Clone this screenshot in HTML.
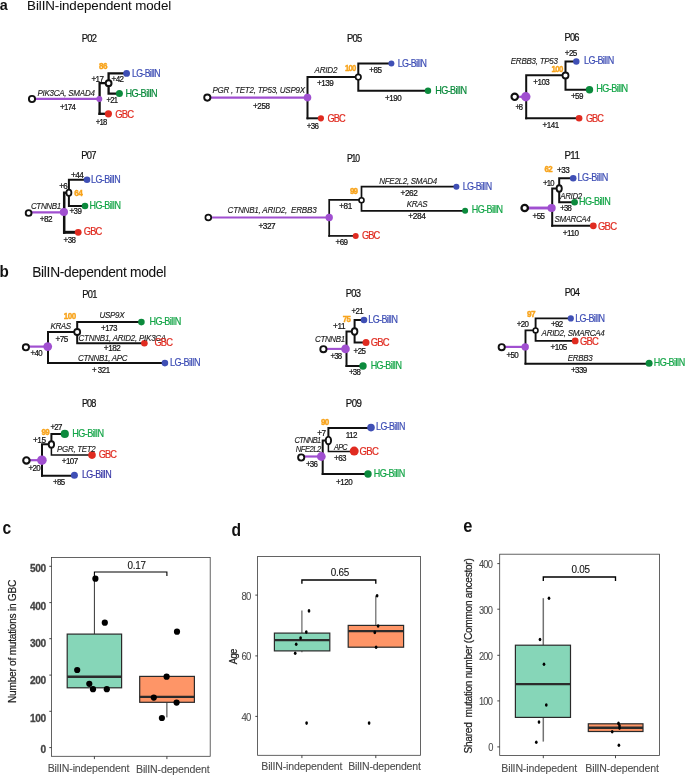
<!DOCTYPE html><html><head><meta charset="utf-8"><title>BilIN models</title>
<style>html,body{margin:0;padding:0;background:#fff}svg{display:block}text{white-space:pre;font-family:"Liberation Sans",sans-serif}</style></head><body>
<svg width="685" height="775" viewBox="0 0 685 775">
<rect width="685" height="775" fill="#fff"/>
<text transform="translate(-0.3,9.8) scale(0.957,1)" font-size="15" fill="#111" stroke="#111" stroke-width="0" font-weight="bold" textLength="8.0" lengthAdjust="spacing">a</text>
<text transform="translate(27.1,10.0) scale(0.982,1)" font-size="13.6" fill="#111" stroke="#111" stroke-width="0.05" textLength="146.8" lengthAdjust="spacing">BilIN-independent model</text>
<text transform="translate(-0.6,276.5) scale(0.896,1)" font-size="17" fill="#111" stroke="#111" stroke-width="0" font-weight="bold" textLength="9.5" lengthAdjust="spacing">b</text>
<text transform="translate(32.2,276.5) scale(0.949,1)" font-size="14.5" fill="#111" stroke="#111" stroke-width="0.05" textLength="141.4" lengthAdjust="spacing">BilIN-dependent model</text>
<text transform="translate(81.8,41.8) scale(0.893,1)" font-size="10.5" fill="#111" stroke="#111" stroke-width="0.22" textLength="17.0" lengthAdjust="spacing">P02</text>
<line x1="32.0" y1="98.9" x2="99.3" y2="98.9" stroke="#a04fd0" stroke-width="2.2" stroke-linecap="butt"/>
<polyline points="108.6,83.1 99.6,83.1 99.6,115.0" fill="none" stroke="#111" stroke-width="2.3" stroke-linejoin="miter"/>
<line x1="98.4" y1="113.8" x2="108.4" y2="113.8" stroke="#111" stroke-width="2.3" stroke-linecap="butt"/>
<polyline points="126.6,73.4 108.6,73.4 108.6,93.6 119.4,93.6" fill="none" stroke="#111" stroke-width="2.3" stroke-linejoin="miter"/>
<circle cx="126.6" cy="73.4" r="3.4" fill="#3f4fb5"/>
<circle cx="119.4" cy="93.6" r="3.5" fill="#0b8a3c"/>
<circle cx="108.4" cy="113.8" r="3.6" fill="#e02b20"/>
<circle cx="99.3" cy="98.9" r="3.0" fill="#a04fd0"/>
<circle cx="32.0" cy="99.0" r="3.1" fill="#fff" stroke="#111" stroke-width="1.9"/>
<circle cx="108.6" cy="83.2" r="2.9" fill="#fff" stroke="#111" stroke-width="2.0"/>
<text transform="translate(99.0,68.5) scale(0.925,1)" font-size="8.8" fill="#f8a31a" stroke="#f8a31a" stroke-width="0.4" font-weight="bold" textLength="9.2" lengthAdjust="spacing">86</text>
<text transform="translate(91.4,81.7) scale(0.900,1)" font-size="9" fill="#111" stroke="#111" stroke-width="0.22" textLength="14.0" lengthAdjust="spacing">+17</text>
<text transform="translate(111.5,82.0) scale(0.896,1)" font-size="9" fill="#111" stroke="#111" stroke-width="0.22" textLength="14.0" lengthAdjust="spacing">+42</text>
<text transform="translate(132.0,77.0) scale(0.835,1)" font-size="10.5" fill="#3f4fb5" stroke="#3f4fb5" stroke-width="0.22" textLength="34.2" lengthAdjust="spacing">LG-BilIN</text>
<text transform="translate(125.5,97.0) scale(0.871,1)" font-size="10.5" fill="#0b8a3c" stroke="#0b8a3c" stroke-width="0.22" textLength="37.0" lengthAdjust="spacing">HG-BilIN</text>
<text transform="translate(106.6,102.7) scale(0.852,1)" font-size="9" fill="#111" stroke="#111" stroke-width="0.22" textLength="13.4" lengthAdjust="spacing">+21</text>
<text transform="translate(115.3,117.6) scale(0.903,1)" font-size="10.5" fill="#e02b20" stroke="#e02b20" stroke-width="0.22" textLength="20.9" lengthAdjust="spacing">GBC</text>
<text transform="translate(95.8,124.6) scale(0.860,1)" font-size="9" fill="#111" stroke="#111" stroke-width="0.22" textLength="13.5" lengthAdjust="spacing">+18</text>
<text transform="translate(37.4,95.9) scale(0.935,1)" font-size="8.6" fill="#1a1a1a" stroke="#1a1a1a" stroke-width="0.12" font-style="italic" textLength="61.5" lengthAdjust="spacing">PIK3CA, SMAD4</text>
<text transform="translate(59.9,109.9) scale(0.878,1)" font-size="9" fill="#111" stroke="#111" stroke-width="0.22" textLength="18.2" lengthAdjust="spacing">+174</text>
<text transform="translate(346.9,41.7) scale(0.896,1)" font-size="10.5" fill="#111" stroke="#111" stroke-width="0.22" textLength="17.1" lengthAdjust="spacing">P05</text>
<line x1="207.3" y1="97.6" x2="307.5" y2="97.6" stroke="#a04fd0" stroke-width="2.2" stroke-linecap="butt"/>
<polyline points="358.3,76.9 307.5,76.9 307.5,119.3" fill="none" stroke="#111" stroke-width="2.0" stroke-linejoin="miter"/>
<line x1="306.5" y1="118.3" x2="320.9" y2="118.3" stroke="#111" stroke-width="2.0" stroke-linecap="butt"/>
<polyline points="391.4,63.6 358.3,63.6 358.3,90.8 428.0,90.8" fill="none" stroke="#111" stroke-width="2.0" stroke-linejoin="miter"/>
<circle cx="391.4" cy="63.6" r="3.0" fill="#3f4fb5"/>
<circle cx="428.0" cy="90.8" r="3.2" fill="#0b8a3c"/>
<circle cx="320.9" cy="118.3" r="3.1" fill="#e02b20"/>
<circle cx="307.5" cy="97.6" r="3.8" fill="#a04fd0"/>
<circle cx="207.3" cy="97.6" r="3.1" fill="#fff" stroke="#111" stroke-width="1.9"/>
<circle cx="358.3" cy="77.1" r="2.7" fill="#fff" stroke="#111" stroke-width="1.7"/>
<text transform="translate(314.6,72.9) scale(0.944,1)" font-size="8.6" fill="#1a1a1a" stroke="#1a1a1a" stroke-width="0.12" font-style="italic" textLength="24.2" lengthAdjust="spacing">ARID2</text>
<text transform="translate(344.9,71.4) scale(0.870,1)" font-size="8.8" fill="#f8a31a" stroke="#f8a31a" stroke-width="0.4" font-weight="bold" textLength="13.1" lengthAdjust="spacing">100</text>
<text transform="translate(369.3,73.0) scale(0.904,1)" font-size="9" fill="#111" stroke="#111" stroke-width="0.22" textLength="14.1" lengthAdjust="spacing">+85</text>
<text transform="translate(397.7,67.1) scale(0.845,1)" font-size="10.5" fill="#3f4fb5" stroke="#3f4fb5" stroke-width="0.22" textLength="34.6" lengthAdjust="spacing">LG-BilIN</text>
<text transform="translate(316.9,85.6) scale(0.908,1)" font-size="9" fill="#111" stroke="#111" stroke-width="0.22" textLength="18.7" lengthAdjust="spacing">+139</text>
<text transform="translate(435.2,94.1) scale(0.865,1)" font-size="10.5" fill="#0b8a3c" stroke="#0b8a3c" stroke-width="0.22" textLength="36.8" lengthAdjust="spacing">HG-BilIN</text>
<text transform="translate(385.1,101.0) scale(0.896,1)" font-size="9" fill="#111" stroke="#111" stroke-width="0.22" textLength="18.5" lengthAdjust="spacing">+190</text>
<text transform="translate(212.5,92.6) scale(0.933,1)" font-size="8.6" fill="#1a1a1a" stroke="#1a1a1a" stroke-width="0.12" font-style="italic" textLength="99.3" lengthAdjust="spacing">PGR , TET2, TP53, USP9X</text>
<text transform="translate(253.1,108.6) scale(0.905,1)" font-size="9" fill="#111" stroke="#111" stroke-width="0.22" textLength="18.7" lengthAdjust="spacing">+258</text>
<text transform="translate(327.6,121.9) scale(0.882,1)" font-size="10.5" fill="#e02b20" stroke="#e02b20" stroke-width="0.22" textLength="20.5" lengthAdjust="spacing">GBC</text>
<text transform="translate(306.7,128.7) scale(0.884,1)" font-size="9" fill="#111" stroke="#111" stroke-width="0.22" textLength="13.8" lengthAdjust="spacing">+36</text>
<text transform="translate(564.5,41.2) scale(0.886,1)" font-size="10.5" fill="#111" stroke="#111" stroke-width="0.22" textLength="16.9" lengthAdjust="spacing">P06</text>
<line x1="514.7" y1="96.8" x2="525.8" y2="96.8" stroke="#a04fd0" stroke-width="2.2" stroke-linecap="butt"/>
<polyline points="565.5,75.3 526.2,75.3 526.2,119.3" fill="none" stroke="#111" stroke-width="2.0" stroke-linejoin="miter"/>
<line x1="525.2" y1="118.3" x2="579.1" y2="118.3" stroke="#111" stroke-width="2.0" stroke-linecap="butt"/>
<polyline points="576.3,61.5 565.5,61.5 565.5,89.7 589.5,89.7" fill="none" stroke="#111" stroke-width="2.0" stroke-linejoin="miter"/>
<circle cx="576.3" cy="61.5" r="3.2" fill="#3f4fb5"/>
<circle cx="589.5" cy="89.7" r="3.7" fill="#0b8a3c"/>
<circle cx="579.1" cy="118.3" r="3.3" fill="#e02b20"/>
<circle cx="525.8" cy="96.8" r="4.7" fill="#a04fd0"/>
<circle cx="514.7" cy="96.8" r="3.2" fill="#fff" stroke="#111" stroke-width="2.1"/>
<circle cx="565.5" cy="75.5" r="3.0" fill="#fff" stroke="#111" stroke-width="1.8"/>
<text transform="translate(564.8,56.4) scale(0.896,1)" font-size="9" fill="#111" stroke="#111" stroke-width="0.22" textLength="14.0" lengthAdjust="spacing">+25</text>
<text transform="translate(510.8,63.5) scale(0.933,1)" font-size="8.6" fill="#1a1a1a" stroke="#1a1a1a" stroke-width="0.12" font-style="italic" textLength="50.6" lengthAdjust="spacing">ERBB3, TP53</text>
<text transform="translate(551.6,71.5) scale(0.887,1)" font-size="8.8" fill="#f8a31a" stroke="#f8a31a" stroke-width="0.4" font-weight="bold" textLength="13.3" lengthAdjust="spacing">100</text>
<text transform="translate(584.1,63.7) scale(0.859,1)" font-size="10.5" fill="#3f4fb5" stroke="#3f4fb5" stroke-width="0.22" textLength="35.0" lengthAdjust="spacing">LG-BilIN</text>
<text transform="translate(533.3,85.1) scale(0.893,1)" font-size="9" fill="#111" stroke="#111" stroke-width="0.22" textLength="18.5" lengthAdjust="spacing">+103</text>
<text transform="translate(596.3,92.0) scale(0.866,1)" font-size="10.5" fill="#14a548" stroke="#14a548" stroke-width="0.22" textLength="36.8" lengthAdjust="spacing">HG-BilIN</text>
<text transform="translate(570.9,99.0) scale(0.896,1)" font-size="9" fill="#111" stroke="#111" stroke-width="0.22" textLength="14.0" lengthAdjust="spacing">+59</text>
<text transform="translate(515.4,110.4) scale(0.848,1)" font-size="9" fill="#111" stroke="#111" stroke-width="0.22" textLength="9.0" lengthAdjust="spacing">+8</text>
<text transform="translate(585.9,121.8) scale(0.876,1)" font-size="10.5" fill="#e02b20" stroke="#e02b20" stroke-width="0.22" textLength="20.4" lengthAdjust="spacing">GBC</text>
<text transform="translate(542.6,128.3) scale(0.893,1)" font-size="9" fill="#111" stroke="#111" stroke-width="0.22" textLength="18.5" lengthAdjust="spacing">+141</text>
<text transform="translate(81.2,159.0) scale(0.893,1)" font-size="10.5" fill="#111" stroke="#111" stroke-width="0.22" textLength="17.0" lengthAdjust="spacing">P07</text>
<line x1="28.6" y1="212.4" x2="63.9" y2="212.4" stroke="#a04fd0" stroke-width="2.2" stroke-linecap="butt"/>
<polyline points="68.9,192.8 64.2,192.8 64.2,233.8" fill="none" stroke="#111" stroke-width="2.5" stroke-linejoin="miter"/>
<line x1="63.0" y1="232.3" x2="78.2" y2="232.3" stroke="#111" stroke-width="3.0" stroke-linecap="butt"/>
<polyline points="87.0,179.7 68.9,179.7 68.9,206.0 85.0,206.0" fill="none" stroke="#111" stroke-width="2.0" stroke-linejoin="miter"/>
<circle cx="87.0" cy="179.7" r="3.3" fill="#3f4fb5"/>
<circle cx="85.0" cy="206.0" r="3.3" fill="#0b8a3c"/>
<circle cx="78.2" cy="232.3" r="3.4" fill="#e02b20"/>
<circle cx="63.9" cy="212.0" r="4.1" fill="#a04fd0"/>
<circle cx="28.6" cy="213.0" r="2.9" fill="#fff" stroke="#111" stroke-width="1.9"/>
<ellipse cx="68.9" cy="192.8" rx="2.5" ry="3.1" fill="#fff" stroke="#111" stroke-width="1.8"/>
<text transform="translate(70.9,178.2) scale(0.912,1)" font-size="9" fill="#111" stroke="#111" stroke-width="0.22" textLength="14.2" lengthAdjust="spacing">+44</text>
<text transform="translate(91.1,182.6) scale(0.850,1)" font-size="10.5" fill="#3f4fb5" stroke="#3f4fb5" stroke-width="0.22" textLength="34.7" lengthAdjust="spacing">LG-BilIN</text>
<text transform="translate(59.3,188.5) scale(0.896,1)" font-size="9" fill="#111" stroke="#111" stroke-width="0.22" textLength="9.4" lengthAdjust="spacing">+6</text>
<text transform="translate(74.2,195.8) scale(0.937,1)" font-size="8.8" fill="#f8a31a" stroke="#f8a31a" stroke-width="0.4" font-weight="bold" textLength="9.3" lengthAdjust="spacing">64</text>
<text transform="translate(89.6,208.6) scale(0.857,1)" font-size="10.5" fill="#14a548" stroke="#14a548" stroke-width="0.22" textLength="36.5" lengthAdjust="spacing">HG-BilIN</text>
<text transform="translate(30.9,209.1) scale(0.934,1)" font-size="8.6" fill="#1a1a1a" stroke="#1a1a1a" stroke-width="0.12" font-style="italic" textLength="32.5" lengthAdjust="spacing">CTNNB1</text>
<text transform="translate(69.5,214.4) scale(0.888,1)" font-size="9" fill="#111" stroke="#111" stroke-width="0.22" textLength="13.9" lengthAdjust="spacing">+39</text>
<text transform="translate(39.7,222.0) scale(0.912,1)" font-size="9" fill="#111" stroke="#111" stroke-width="0.22" textLength="14.2" lengthAdjust="spacing">+82</text>
<text transform="translate(83.8,235.2) scale(0.890,1)" font-size="10.5" fill="#e02b20" stroke="#e02b20" stroke-width="0.22" textLength="20.7" lengthAdjust="spacing">GBC</text>
<text transform="translate(63.6,242.5) scale(0.888,1)" font-size="9" fill="#111" stroke="#111" stroke-width="0.22" textLength="13.9" lengthAdjust="spacing">+38</text>
<text transform="translate(347.0,162.1) scale(0.819,1)" font-size="10.5" fill="#111" stroke="#111" stroke-width="0.22" textLength="15.9" lengthAdjust="spacing">P10</text>
<line x1="208.3" y1="217.5" x2="329.2" y2="217.5" stroke="#a04fd0" stroke-width="2.1" stroke-linecap="butt"/>
<polyline points="361.5,199.9 329.2,199.9 329.2,236.8" fill="none" stroke="#111" stroke-width="1.7" stroke-linejoin="miter"/>
<line x1="328.3" y1="235.9" x2="355.7" y2="235.9" stroke="#111" stroke-width="1.7" stroke-linecap="butt"/>
<polyline points="456.4,186.7 361.5,186.7 361.5,210.8 465.1,210.8" fill="none" stroke="#111" stroke-width="1.7" stroke-linejoin="miter"/>
<circle cx="456.4" cy="186.7" r="3" fill="#3f4fb5"/>
<circle cx="465.1" cy="210.8" r="3" fill="#0b8a3c"/>
<circle cx="355.7" cy="235.9" r="3" fill="#e02b20"/>
<circle cx="329.2" cy="217.5" r="3.7" fill="#a04fd0"/>
<circle cx="208.3" cy="217.5" r="2.9" fill="#fff" stroke="#111" stroke-width="1.7"/>
<circle cx="361.5" cy="200.2" r="2.5" fill="#fff" stroke="#111" stroke-width="1.6"/>
<text transform="translate(379.3,184.0) scale(0.930,1)" font-size="8.6" fill="#1a1a1a" stroke="#1a1a1a" stroke-width="0.12" font-style="italic" textLength="62.2" lengthAdjust="spacing">NFE2L2, SMAD4</text>
<text transform="translate(349.9,194.3) scale(0.907,1)" font-size="8.8" fill="#f8a31a" stroke="#f8a31a" stroke-width="0.4" font-weight="bold" textLength="9.0" lengthAdjust="spacing">99</text>
<text transform="translate(400.5,196.2) scale(0.919,1)" font-size="9" fill="#111" stroke="#111" stroke-width="0.22" textLength="18.9" lengthAdjust="spacing">+262</text>
<text transform="translate(462.7,190.3) scale(0.848,1)" font-size="10.5" fill="#3f4fb5" stroke="#3f4fb5" stroke-width="0.22" textLength="34.7" lengthAdjust="spacing">LG-BilIN</text>
<text transform="translate(406.8,206.7) scale(0.934,1)" font-size="8.6" fill="#1a1a1a" stroke="#1a1a1a" stroke-width="0.12" font-style="italic" textLength="22.2" lengthAdjust="spacing">KRAS</text>
<text transform="translate(339.3,209.2) scale(0.915,1)" font-size="9" fill="#111" stroke="#111" stroke-width="0.22" textLength="14.2" lengthAdjust="spacing">+81</text>
<text transform="translate(471.8,212.7) scale(0.857,1)" font-size="10.5" fill="#14a548" stroke="#14a548" stroke-width="0.22" textLength="36.5" lengthAdjust="spacing">HG-BilIN</text>
<text transform="translate(408.2,219.3) scale(0.931,1)" font-size="9" fill="#111" stroke="#111" stroke-width="0.22" textLength="19.1" lengthAdjust="spacing">+284</text>
<text transform="translate(227.6,212.5) scale(0.941,1)" font-size="8.6" fill="#1a1a1a" stroke="#1a1a1a" stroke-width="0.12" font-style="italic" textLength="94.7" lengthAdjust="spacing">CTNNB1, ARID2,  ERBB3</text>
<text transform="translate(258.4,229.4) scale(0.916,1)" font-size="9" fill="#111" stroke="#111" stroke-width="0.22" textLength="18.9" lengthAdjust="spacing">+327</text>
<text transform="translate(362.0,238.7) scale(0.887,1)" font-size="10.5" fill="#e02b20" stroke="#e02b20" stroke-width="0.22" textLength="20.6" lengthAdjust="spacing">GBC</text>
<text transform="translate(335.5,245.3) scale(0.896,1)" font-size="9" fill="#111" stroke="#111" stroke-width="0.22" textLength="14.0" lengthAdjust="spacing">+69</text>
<text transform="translate(564.4,159.3) scale(0.924,1)" font-size="10.5" fill="#111" stroke="#111" stroke-width="0.22" textLength="16.8" lengthAdjust="spacing">P11</text>
<line x1="524.7" y1="208.0" x2="551.6" y2="208.0" stroke="#a04fd0" stroke-width="2.9" stroke-linecap="butt"/>
<polyline points="559.2,188.5 552.2,188.5 552.2,226.8" fill="none" stroke="#111" stroke-width="2.0" stroke-linejoin="miter"/>
<line x1="551.2" y1="225.8" x2="593.3" y2="225.8" stroke="#111" stroke-width="2.0" stroke-linecap="butt"/>
<polyline points="573.2,178.2 559.2,178.2 559.2,202.2 574.6,202.2" fill="none" stroke="#111" stroke-width="2.0" stroke-linejoin="miter"/>
<circle cx="573.2" cy="178.2" r="3.3" fill="#3f4fb5"/>
<circle cx="574.6" cy="202.2" r="3.3" fill="#0b8a3c"/>
<circle cx="593.3" cy="225.8" r="3.4" fill="#e02b20"/>
<circle cx="551.6" cy="208.0" r="4.1" fill="#a04fd0"/>
<circle cx="524.7" cy="208.0" r="3.2" fill="#fff" stroke="#111" stroke-width="2.3"/>
<ellipse cx="559.2" cy="188.5" rx="2.6" ry="3.3" fill="#fff" stroke="#111" stroke-width="1.9"/>
<text transform="translate(544.6,171.5) scale(0.901,1)" font-size="8.8" fill="#f8a31a" stroke="#f8a31a" stroke-width="0.4" font-weight="bold" textLength="9.0" lengthAdjust="spacing">62</text>
<text transform="translate(557.1,173.0) scale(0.900,1)" font-size="9" fill="#111" stroke="#111" stroke-width="0.22" textLength="14.0" lengthAdjust="spacing">+33</text>
<text transform="translate(577.6,181.2) scale(0.867,1)" font-size="10.5" fill="#3f4fb5" stroke="#3f4fb5" stroke-width="0.22" textLength="35.3" lengthAdjust="spacing">LG-BilIN</text>
<text transform="translate(543.1,185.5) scale(0.852,1)" font-size="9" fill="#111" stroke="#111" stroke-width="0.22" textLength="13.4" lengthAdjust="spacing">+10</text>
<text transform="translate(560.3,199.1) scale(0.923,1)" font-size="8.6" fill="#1a1a1a" stroke="#1a1a1a" stroke-width="0.12" font-style="italic" textLength="23.7" lengthAdjust="spacing">ARID2</text>
<text transform="translate(579.0,205.1) scale(0.865,1)" font-size="10.5" fill="#14a548" stroke="#14a548" stroke-width="0.22" textLength="36.8" lengthAdjust="spacing">HG-BilIN</text>
<text transform="translate(560.3,210.9) scale(0.864,1)" font-size="9" fill="#111" stroke="#111" stroke-width="0.22" textLength="13.5" lengthAdjust="spacing">+38</text>
<text transform="translate(532.6,218.8) scale(0.888,1)" font-size="9" fill="#111" stroke="#111" stroke-width="0.22" textLength="13.9" lengthAdjust="spacing">+55</text>
<text transform="translate(554.5,221.9) scale(0.927,1)" font-size="8.6" fill="#1a1a1a" stroke="#1a1a1a" stroke-width="0.12" font-style="italic" textLength="39.1" lengthAdjust="spacing">SMARCA4</text>
<text transform="translate(598.0,229.6) scale(0.906,1)" font-size="10.5" fill="#e02b20" stroke="#e02b20" stroke-width="0.22" textLength="21.0" lengthAdjust="spacing">GBC</text>
<text transform="translate(562.7,236.0) scale(0.903,1)" font-size="9" fill="#111" stroke="#111" stroke-width="0.22" textLength="18.0" lengthAdjust="spacing">+110</text>
<text transform="translate(82.3,297.7) scale(0.889,1)" font-size="10.5" fill="#111" stroke="#111" stroke-width="0.22" textLength="17.0" lengthAdjust="spacing">P01</text>
<line x1="25.9" y1="346.6" x2="47.7" y2="346.6" stroke="#a04fd0" stroke-width="2.2" stroke-linecap="butt"/>
<polyline points="77.2,331.9 48.0,331.9 48.0,364.1" fill="none" stroke="#111" stroke-width="2.0" stroke-linejoin="miter"/>
<line x1="47.0" y1="363.1" x2="164.9" y2="363.1" stroke="#111" stroke-width="2.0" stroke-linecap="butt"/>
<polyline points="141.4,322.1 77.2,322.1 77.2,343.3 144.4,343.3" fill="none" stroke="#111" stroke-width="2.0" stroke-linejoin="miter"/>
<circle cx="141.4" cy="322.1" r="3.3" fill="#0b8a3c"/>
<circle cx="144.4" cy="343.3" r="3.3" fill="#e02b20"/>
<circle cx="164.9" cy="363.1" r="3.3" fill="#3f4fb5"/>
<circle cx="47.7" cy="346.6" r="4.4" fill="#a04fd0"/>
<circle cx="25.9" cy="347.3" r="3.1" fill="#fff" stroke="#111" stroke-width="1.9"/>
<circle cx="77.2" cy="332.0" r="3.0" fill="#fff" stroke="#111" stroke-width="1.8"/>
<text transform="translate(63.8,318.9) scale(0.911,1)" font-size="8.8" fill="#f8a31a" stroke="#f8a31a" stroke-width="0.4" font-weight="bold" textLength="13.6" lengthAdjust="spacing">100</text>
<text transform="translate(99.4,317.8) scale(0.940,1)" font-size="8.6" fill="#1a1a1a" stroke="#1a1a1a" stroke-width="0.12" font-style="italic" textLength="26.8" lengthAdjust="spacing">USP9X</text>
<text transform="translate(149.4,324.6) scale(0.866,1)" font-size="10.5" fill="#14a548" stroke="#14a548" stroke-width="0.22" textLength="36.8" lengthAdjust="spacing">HG-BilIN</text>
<text transform="translate(50.4,328.6) scale(0.937,1)" font-size="8.6" fill="#1a1a1a" stroke="#1a1a1a" stroke-width="0.12" font-style="italic" textLength="22.2" lengthAdjust="spacing">KRAS</text>
<text transform="translate(101.1,331.4) scale(0.890,1)" font-size="9" fill="#111" stroke="#111" stroke-width="0.22" textLength="18.4" lengthAdjust="spacing">+173</text>
<text transform="translate(78.6,340.7) scale(0.932,1)" font-size="8.6" fill="#1a1a1a" stroke="#1a1a1a" stroke-width="0.12" font-style="italic" textLength="94.0" lengthAdjust="spacing">CTNNB1, ARID2, PIK3CA</text>
<text transform="translate(55.4,341.8) scale(0.908,1)" font-size="9" fill="#111" stroke="#111" stroke-width="0.22" textLength="14.1" lengthAdjust="spacing">+75</text>
<text transform="translate(154.5,346.3) scale(0.890,1)" font-size="10.5" fill="#e02b20" stroke="#e02b20" stroke-width="0.22" textLength="20.7" lengthAdjust="spacing">GBC</text>
<text transform="translate(103.8,350.6) scale(0.911,1)" font-size="9" fill="#111" stroke="#111" stroke-width="0.22" textLength="18.8" lengthAdjust="spacing">+182</text>
<text transform="translate(30.6,355.5) scale(0.876,1)" font-size="9" fill="#111" stroke="#111" stroke-width="0.22" textLength="13.7" lengthAdjust="spacing">+40</text>
<text transform="translate(77.9,360.8) scale(0.931,1)" font-size="8.6" fill="#1a1a1a" stroke="#1a1a1a" stroke-width="0.12" font-style="italic" textLength="53.4" lengthAdjust="spacing">CTNNB1, APC</text>
<text transform="translate(169.9,365.5) scale(0.867,1)" font-size="10.5" fill="#3f4fb5" stroke="#3f4fb5" stroke-width="0.22" textLength="35.3" lengthAdjust="spacing">LG-BilIN</text>
<text transform="translate(92.0,373.0) scale(0.881,1)" font-size="9" fill="#111" stroke="#111" stroke-width="0.22" textLength="20.5" lengthAdjust="spacing">+ 321</text>
<text transform="translate(345.8,297.3) scale(0.893,1)" font-size="10.5" fill="#111" stroke="#111" stroke-width="0.22" textLength="17.0" lengthAdjust="spacing">P03</text>
<line x1="323.4" y1="348.9" x2="345.5" y2="348.9" stroke="#a04fd0" stroke-width="2.1" stroke-linecap="butt"/>
<polyline points="354.6,331.5 346.5,331.5 346.5,367.0" fill="none" stroke="#111" stroke-width="2.0" stroke-linejoin="miter"/>
<line x1="345.5" y1="366.0" x2="363.0" y2="366.0" stroke="#111" stroke-width="2.0" stroke-linecap="butt"/>
<polyline points="364.0,320.0 354.6,320.0 354.6,342.5 366.0,342.5" fill="none" stroke="#111" stroke-width="2.0" stroke-linejoin="miter"/>
<circle cx="364.0" cy="320.0" r="3.3" fill="#3f4fb5"/>
<circle cx="366.0" cy="342.5" r="3.5" fill="#e02b20"/>
<circle cx="363.0" cy="366.0" r="3.7" fill="#0b8a3c"/>
<circle cx="345.5" cy="348.9" r="4.3" fill="#a04fd0"/>
<circle cx="323.4" cy="349.2" r="3.1" fill="#fff" stroke="#111" stroke-width="1.9"/>
<ellipse cx="354.6" cy="331.5" rx="2.8" ry="3.2" fill="#fff" stroke="#111" stroke-width="1.9"/>
<text transform="translate(351.6,313.5) scale(0.876,1)" font-size="9" fill="#111" stroke="#111" stroke-width="0.22" textLength="13.7" lengthAdjust="spacing">+21</text>
<text transform="translate(342.8,321.6) scale(0.901,1)" font-size="8.8" fill="#f8a31a" stroke="#f8a31a" stroke-width="0.4" font-weight="bold" textLength="9.0" lengthAdjust="spacing">75</text>
<text transform="translate(368.3,323.2) scale(0.851,1)" font-size="10.5" fill="#3f4fb5" stroke="#3f4fb5" stroke-width="0.22" textLength="34.8" lengthAdjust="spacing">LG-BilIN</text>
<text transform="translate(333.1,329.3) scale(0.914,1)" font-size="9" fill="#111" stroke="#111" stroke-width="0.22" textLength="13.6" lengthAdjust="spacing">+11</text>
<text transform="translate(315.0,341.9) scale(0.931,1)" font-size="8.6" fill="#1a1a1a" stroke="#1a1a1a" stroke-width="0.12" font-style="italic" textLength="32.4" lengthAdjust="spacing">CTNNB1</text>
<text transform="translate(370.7,346.3) scale(0.900,1)" font-size="10.5" fill="#e02b20" stroke="#e02b20" stroke-width="0.22" textLength="20.9" lengthAdjust="spacing">GBC</text>
<text transform="translate(353.6,353.5) scale(0.892,1)" font-size="9" fill="#111" stroke="#111" stroke-width="0.22" textLength="13.9" lengthAdjust="spacing">+25</text>
<text transform="translate(330.4,358.8) scale(0.868,1)" font-size="9" fill="#111" stroke="#111" stroke-width="0.22" textLength="13.6" lengthAdjust="spacing">+38</text>
<text transform="translate(370.7,368.8) scale(0.856,1)" font-size="10.5" fill="#14a548" stroke="#14a548" stroke-width="0.22" textLength="36.5" lengthAdjust="spacing">HG-BilIN</text>
<text transform="translate(348.9,374.9) scale(0.880,1)" font-size="9" fill="#111" stroke="#111" stroke-width="0.22" textLength="13.8" lengthAdjust="spacing">+38</text>
<text transform="translate(564.8,295.6) scale(0.889,1)" font-size="10.5" fill="#111" stroke="#111" stroke-width="0.22" textLength="17.0" lengthAdjust="spacing">P04</text>
<line x1="501.7" y1="346.9" x2="525.2" y2="346.9" stroke="#a04fd0" stroke-width="2.2" stroke-linecap="butt"/>
<polyline points="535.6,330.4 525.5,330.4 525.5,364.6" fill="none" stroke="#111" stroke-width="1.9" stroke-linejoin="miter"/>
<line x1="524.5" y1="363.7" x2="649.1" y2="363.7" stroke="#111" stroke-width="1.9" stroke-linecap="butt"/>
<polyline points="570.8,318.4 535.6,318.4 535.6,340.9 575.2,340.9" fill="none" stroke="#111" stroke-width="1.9" stroke-linejoin="miter"/>
<circle cx="570.8" cy="318.4" r="3.1" fill="#3f4fb5"/>
<circle cx="575.2" cy="340.9" r="3.4" fill="#e02b20"/>
<circle cx="649.1" cy="363.2" r="3.5" fill="#0b8a3c"/>
<circle cx="525.2" cy="346.9" r="3.7" fill="#a04fd0"/>
<circle cx="501.7" cy="347.2" r="3.1" fill="#fff" stroke="#111" stroke-width="1.9"/>
<circle cx="535.6" cy="330.4" r="2.4" fill="#fff" stroke="#111" stroke-width="1.6"/>
<text transform="translate(526.9,317.2) scale(0.937,1)" font-size="8.8" fill="#f8a31a" stroke="#f8a31a" stroke-width="0.4" font-weight="bold" textLength="9.3" lengthAdjust="spacing">97</text>
<text transform="translate(575.2,321.5) scale(0.856,1)" font-size="10.5" fill="#3f4fb5" stroke="#3f4fb5" stroke-width="0.22" textLength="34.9" lengthAdjust="spacing">LG-BilIN</text>
<text transform="translate(516.8,326.6) scale(0.880,1)" font-size="9" fill="#111" stroke="#111" stroke-width="0.22" textLength="13.8" lengthAdjust="spacing">+20</text>
<text transform="translate(551.0,327.3) scale(0.880,1)" font-size="9" fill="#111" stroke="#111" stroke-width="0.22" textLength="13.8" lengthAdjust="spacing">+92</text>
<text transform="translate(541.6,335.9) scale(0.933,1)" font-size="8.6" fill="#1a1a1a" stroke="#1a1a1a" stroke-width="0.12" font-style="italic" textLength="67.7" lengthAdjust="spacing">ARID2, SMARCA4</text>
<text transform="translate(579.9,345.0) scale(0.900,1)" font-size="10.5" fill="#e02b20" stroke="#e02b20" stroke-width="0.22" textLength="20.9" lengthAdjust="spacing">GBC</text>
<text transform="translate(550.4,350.1) scale(0.902,1)" font-size="9" fill="#111" stroke="#111" stroke-width="0.22" textLength="18.6" lengthAdjust="spacing">+105</text>
<text transform="translate(506.4,357.8) scale(0.892,1)" font-size="9" fill="#111" stroke="#111" stroke-width="0.22" textLength="13.9" lengthAdjust="spacing">+50</text>
<text transform="translate(567.8,361.4) scale(0.934,1)" font-size="8.6" fill="#1a1a1a" stroke="#1a1a1a" stroke-width="0.12" font-style="italic" textLength="26.7" lengthAdjust="spacing">ERBB3</text>
<text transform="translate(653.8,366.1) scale(0.860,1)" font-size="10.5" fill="#14a548" stroke="#14a548" stroke-width="0.22" textLength="36.6" lengthAdjust="spacing">HG-BilIN</text>
<text transform="translate(570.9,373.3) scale(0.890,1)" font-size="9" fill="#111" stroke="#111" stroke-width="0.22" textLength="18.4" lengthAdjust="spacing">+339</text>
<text transform="translate(81.9,407.2) scale(0.870,1)" font-size="10.5" fill="#111" stroke="#111" stroke-width="0.22" textLength="16.7" lengthAdjust="spacing">P08</text>
<line x1="26.4" y1="460.2" x2="41.9" y2="460.2" stroke="#a04fd0" stroke-width="2.2" stroke-linecap="butt"/>
<polyline points="51.4,444.3 42.0,444.3 42.0,476.8" fill="none" stroke="#111" stroke-width="2.0" stroke-linejoin="miter"/>
<line x1="41.0" y1="475.8" x2="74.4" y2="475.8" stroke="#111" stroke-width="2.0" stroke-linecap="butt"/>
<polyline points="64.8,434.1 51.4,434.1 51.4,444.4" fill="none" stroke="#111" stroke-width="2.0" stroke-linejoin="miter"/>
<polyline points="51.4,444.4 51.4,455.0 92.0,455.0" fill="none" stroke="#111" stroke-width="1.5" stroke-linejoin="miter"/>
<circle cx="64.8" cy="433.9" r="4.1" fill="#0b8a3c"/>
<circle cx="92.0" cy="455.1" r="3.8" fill="#e02b20"/>
<circle cx="74.4" cy="475.2" r="3.5" fill="#3f4fb5"/>
<circle cx="41.9" cy="460.2" r="4.8" fill="#a04fd0"/>
<circle cx="26.4" cy="460.4" r="3.2" fill="#fff" stroke="#111" stroke-width="2.1"/>
<ellipse cx="51.4" cy="444.4" rx="2.7" ry="3.2" fill="#fff" stroke="#111" stroke-width="1.9"/>
<text transform="translate(41.6,434.8) scale(0.901,1)" font-size="8.8" fill="#f8a31a" stroke="#f8a31a" stroke-width="0.4" font-weight="bold" textLength="9.0" lengthAdjust="spacing">99</text>
<text transform="translate(50.4,429.8) scale(0.880,1)" font-size="9" fill="#111" stroke="#111" stroke-width="0.22" textLength="13.8" lengthAdjust="spacing">+27</text>
<text transform="translate(72.2,436.8) scale(0.866,1)" font-size="10.5" fill="#14a548" stroke="#14a548" stroke-width="0.22" textLength="36.8" lengthAdjust="spacing">HG-BilIN</text>
<text transform="translate(32.9,442.9) scale(0.919,1)" font-size="9" fill="#111" stroke="#111" stroke-width="0.22" textLength="14.3" lengthAdjust="spacing">+15</text>
<text transform="translate(57.1,451.9) scale(0.925,1)" font-size="8.6" fill="#1a1a1a" stroke="#1a1a1a" stroke-width="0.12" font-style="italic" textLength="41.7" lengthAdjust="spacing">PGR, TET2</text>
<text transform="translate(98.7,457.6) scale(0.884,1)" font-size="10.5" fill="#e02b20" stroke="#e02b20" stroke-width="0.22" textLength="20.6" lengthAdjust="spacing">GBC</text>
<text transform="translate(61.8,464.1) scale(0.890,1)" font-size="9" fill="#111" stroke="#111" stroke-width="0.22" textLength="18.4" lengthAdjust="spacing">+107</text>
<text transform="translate(28.5,471.1) scale(0.880,1)" font-size="9" fill="#111" stroke="#111" stroke-width="0.22" textLength="13.8" lengthAdjust="spacing">+20</text>
<text transform="translate(81.9,477.7) scale(0.856,1)" font-size="10.5" fill="#3c3ca8" stroke="#3c3ca8" stroke-width="0.22" textLength="34.9" lengthAdjust="spacing">LG-BilIN</text>
<text transform="translate(53.1,484.9) scale(0.876,1)" font-size="9" fill="#111" stroke="#111" stroke-width="0.22" textLength="13.7" lengthAdjust="spacing">+85</text>
<text transform="translate(345.8,406.6) scale(0.925,1)" font-size="10.5" fill="#111" stroke="#111" stroke-width="0.22" textLength="17.5" lengthAdjust="spacing">P09</text>
<line x1="301.2" y1="456.5" x2="321.3" y2="456.5" stroke="#a04fd0" stroke-width="2.2" stroke-linecap="butt"/>
<polyline points="328.4,440.4 322.7,440.4 322.7,475.0" fill="none" stroke="#111" stroke-width="2.0" stroke-linejoin="miter"/>
<line x1="321.7" y1="474.0" x2="368.0" y2="474.0" stroke="#111" stroke-width="2.0" stroke-linecap="butt"/>
<polyline points="371.0,427.9 328.4,427.9 328.4,440.4" fill="none" stroke="#111" stroke-width="2.0" stroke-linejoin="miter"/>
<polyline points="328.4,440.4 328.4,451.5 354.2,451.5" fill="none" stroke="#111" stroke-width="1.5" stroke-linejoin="miter"/>
<circle cx="371.0" cy="427.6" r="3.8" fill="#3f4fb5"/>
<circle cx="354.2" cy="451.1" r="4.5" fill="#e02b20"/>
<circle cx="368.0" cy="474.0" r="3.7" fill="#0b8a3c"/>
<circle cx="321.3" cy="456.5" r="4.4" fill="#a04fd0"/>
<circle cx="301.2" cy="457.5" r="3.1" fill="#fff" stroke="#111" stroke-width="1.9"/>
<ellipse cx="328.4" cy="440.4" rx="2.7" ry="3.8" fill="#fff" stroke="#111" stroke-width="1.9"/>
<text transform="translate(321.0,425.4) scale(0.919,1)" font-size="8.8" fill="#f8a31a" stroke="#f8a31a" stroke-width="0.4" font-weight="bold" textLength="9.1" lengthAdjust="spacing">90</text>
<text transform="translate(376.1,430.1) scale(0.845,1)" font-size="10.5" fill="#3f4fb5" stroke="#3f4fb5" stroke-width="0.22" textLength="34.6" lengthAdjust="spacing">LG-BilIN</text>
<text transform="translate(317.3,435.5) scale(0.913,1)" font-size="9" fill="#111" stroke="#111" stroke-width="0.22" textLength="9.5" lengthAdjust="spacing">+7</text>
<text transform="translate(345.8,437.5) scale(0.898,1)" font-size="9" fill="#111" stroke="#111" stroke-width="0.22" textLength="13.1" lengthAdjust="spacing">112</text>
<text transform="translate(294.5,443.1) scale(0.872,1)" font-size="8.6" fill="#1a1a1a" stroke="#1a1a1a" stroke-width="0.12" font-style="italic" textLength="30.7" lengthAdjust="spacing">CTNNB1</text>
<text transform="translate(295.8,451.9) scale(0.890,1)" font-size="8.6" fill="#1a1a1a" stroke="#1a1a1a" stroke-width="0.12" font-style="italic" textLength="28.7" lengthAdjust="spacing">NFE2L2</text>
<text transform="translate(334.1,449.5) scale(0.859,1)" font-size="8.6" fill="#1a1a1a" stroke="#1a1a1a" stroke-width="0.12" font-style="italic" textLength="15.6" lengthAdjust="spacing">APC</text>
<text transform="translate(359.6,454.9) scale(0.911,1)" font-size="10.5" fill="#e02b20" stroke="#e02b20" stroke-width="0.22" textLength="21.1" lengthAdjust="spacing">GBC</text>
<text transform="translate(334.1,460.7) scale(0.892,1)" font-size="9" fill="#111" stroke="#111" stroke-width="0.22" textLength="13.9" lengthAdjust="spacing">+63</text>
<text transform="translate(305.9,466.7) scale(0.880,1)" font-size="9" fill="#111" stroke="#111" stroke-width="0.22" textLength="13.8" lengthAdjust="spacing">+36</text>
<text transform="translate(373.7,477.1) scale(0.862,1)" font-size="10.5" fill="#14a548" stroke="#14a548" stroke-width="0.22" textLength="36.7" lengthAdjust="spacing">HG-BilIN</text>
<text transform="translate(336.1,484.5) scale(0.893,1)" font-size="9" fill="#111" stroke="#111" stroke-width="0.22" textLength="18.5" lengthAdjust="spacing">+120</text>
<text transform="translate(2.4,534.0) scale(0.892,1)" font-size="17.5" fill="#111" stroke="#111" stroke-width="0" font-weight="bold" textLength="8.9" lengthAdjust="spacing">c</text>
<rect x="51.5" y="557.6" width="158.7" height="198.7" fill="none" stroke="#3c3c3c" stroke-width="0.8"/>
<line x1="49.3" y1="566.3" x2="51.5" y2="566.3" stroke="#333" stroke-width="0.9" stroke-linecap="butt"/>
<text transform="translate(30.0,571.9) scale(0.938,1)" font-size="10.8" fill="#444" stroke="#444" stroke-width="0.3" font-weight="bold" textLength="17.1" lengthAdjust="spacing">500</text>
<line x1="49.3" y1="602.6" x2="51.5" y2="602.6" stroke="#333" stroke-width="0.9" stroke-linecap="butt"/>
<text transform="translate(30.0,609.7) scale(0.938,1)" font-size="10.8" fill="#444" stroke="#444" stroke-width="0.3" font-weight="bold" textLength="17.1" lengthAdjust="spacing">400</text>
<line x1="49.3" y1="638.7" x2="51.5" y2="638.7" stroke="#333" stroke-width="0.9" stroke-linecap="butt"/>
<text transform="translate(30.0,646.9) scale(0.938,1)" font-size="10.8" fill="#444" stroke="#444" stroke-width="0.3" font-weight="bold" textLength="17.1" lengthAdjust="spacing">300</text>
<line x1="49.3" y1="675.1" x2="51.5" y2="675.1" stroke="#333" stroke-width="0.9" stroke-linecap="butt"/>
<text transform="translate(30.0,683.9) scale(0.938,1)" font-size="10.8" fill="#444" stroke="#444" stroke-width="0.3" font-weight="bold" textLength="17.1" lengthAdjust="spacing">200</text>
<line x1="49.3" y1="711.3" x2="51.5" y2="711.3" stroke="#333" stroke-width="0.9" stroke-linecap="butt"/>
<text transform="translate(30.0,721.5) scale(0.938,1)" font-size="10.8" fill="#444" stroke="#444" stroke-width="0.3" font-weight="bold" textLength="17.1" lengthAdjust="spacing">100</text>
<line x1="49.3" y1="747.6" x2="51.5" y2="747.6" stroke="#333" stroke-width="0.9" stroke-linecap="butt"/>
<text transform="translate(40.6,753.1) scale(0.938,1)" font-size="10.8" fill="#444" stroke="#444" stroke-width="0.3" font-weight="bold" textLength="5.7" lengthAdjust="spacing">0</text>
<line x1="94.4" y1="756.3" x2="94.4" y2="759.1" stroke="#333" stroke-width="0.9" stroke-linecap="butt"/>
<line x1="166.9" y1="756.3" x2="166.9" y2="759.1" stroke="#333" stroke-width="0.9" stroke-linecap="butt"/>
<line x1="94.4" y1="578.7" x2="94.4" y2="634.1" stroke="#333" stroke-width="1.0" stroke-linecap="butt"/>
<rect x="67.2" y="634.1" width="54.4" height="53.7" fill="#86d6b8" stroke="#2a2a2a" stroke-width="1.2"/>
<line x1="67.2" y1="676.7" x2="121.6" y2="676.7" stroke="#2b2b2b" stroke-width="2.4" stroke-linecap="butt"/>
<line x1="166.9" y1="702.3" x2="166.9" y2="717.4" stroke="#333" stroke-width="1.0" stroke-linecap="butt"/>
<rect x="139.7" y="676.4" width="54.7" height="25.9" fill="#fe9567" stroke="#2a2a2a" stroke-width="1.2"/>
<line x1="139.7" y1="696.9" x2="194.4" y2="696.9" stroke="#2b2b2b" stroke-width="2.4" stroke-linecap="butt"/>
<polyline points="94.4,576.0 94.4,572.0 166.9,572.0 166.9,576.0" fill="none" stroke="#000" stroke-width="1.1" stroke-linejoin="miter"/>
<text transform="translate(127.6,568.7) scale(0.944,1)" font-size="10.5" fill="#111" stroke="#111" stroke-width="0.1" textLength="19.5" lengthAdjust="spacing">0.17</text>
<circle cx="95.4" cy="578.7" r="3.1" fill="#000"/>
<circle cx="104.8" cy="622.7" r="3.1" fill="#000"/>
<circle cx="77.2" cy="670.0" r="3.1" fill="#000"/>
<circle cx="89.3" cy="683.8" r="3.1" fill="#000"/>
<circle cx="93.0" cy="689.2" r="3.1" fill="#000"/>
<circle cx="106.8" cy="689.2" r="3.1" fill="#000"/>
<circle cx="177.0" cy="631.7" r="3.1" fill="#000"/>
<circle cx="166.6" cy="676.7" r="3.1" fill="#000"/>
<circle cx="153.8" cy="697.6" r="3.1" fill="#000"/>
<circle cx="176.6" cy="702.6" r="3.1" fill="#000"/>
<circle cx="161.9" cy="718.0" r="3.1" fill="#000"/>
<text transform="translate(16.2,703.0) rotate(-90) scale(0.940,1)" font-size="10.8" fill="#222" stroke="#222" stroke-width="0.22" textLength="131.2" lengthAdjust="spacing">Number of mutations in GBC</text>
<text transform="translate(47.7,771.6) scale(0.963,1)" font-size="11" fill="#4d4d4d" stroke="#4d4d4d" stroke-width="0.1" textLength="84.8" lengthAdjust="spacing">BilIN-independent</text>
<text transform="translate(136.0,772.6) scale(0.963,1)" font-size="11" fill="#4d4d4d" stroke="#4d4d4d" stroke-width="0.1" textLength="76.5" lengthAdjust="spacing">BilIN-dependent</text>
<text transform="translate(231.6,535.6) scale(0.893,1)" font-size="17.5" fill="#111" stroke="#111" stroke-width="0" font-weight="bold" textLength="9.7" lengthAdjust="spacing">d</text>
<rect x="257.6" y="556.4" width="162.8" height="198.9" fill="none" stroke="#3c3c3c" stroke-width="0.8"/>
<line x1="255.3" y1="595.1" x2="257.6" y2="595.1" stroke="#333" stroke-width="0.9" stroke-linecap="butt"/>
<text transform="translate(241.4,599.5) scale(0.928,1)" font-size="10.3" fill="#4d4d4d" stroke="#4d4d4d" stroke-width="0.1" textLength="10.8" lengthAdjust="spacing">80</text>
<line x1="255.3" y1="655.9" x2="257.6" y2="655.9" stroke="#333" stroke-width="0.9" stroke-linecap="butt"/>
<text transform="translate(241.4,660.3) scale(0.928,1)" font-size="10.3" fill="#4d4d4d" stroke="#4d4d4d" stroke-width="0.1" textLength="10.8" lengthAdjust="spacing">60</text>
<line x1="255.3" y1="716.4" x2="257.6" y2="716.4" stroke="#333" stroke-width="0.9" stroke-linecap="butt"/>
<text transform="translate(241.4,720.8) scale(0.928,1)" font-size="10.3" fill="#4d4d4d" stroke="#4d4d4d" stroke-width="0.1" textLength="10.8" lengthAdjust="spacing">40</text>
<line x1="301.9" y1="755.3" x2="301.9" y2="758.1" stroke="#333" stroke-width="0.9" stroke-linecap="butt"/>
<line x1="375.8" y1="755.3" x2="375.8" y2="758.1" stroke="#333" stroke-width="0.9" stroke-linecap="butt"/>
<line x1="301.9" y1="610.6" x2="301.9" y2="633.1" stroke="#666" stroke-width="1.2" stroke-linecap="butt"/>
<line x1="301.9" y1="650.9" x2="301.9" y2="652.2" stroke="#666" stroke-width="1.2" stroke-linecap="butt"/>
<rect x="274.4" y="633.1" width="55.4" height="17.8" fill="#86d6b8" stroke="#2a2a2a" stroke-width="1.2"/>
<line x1="274.4" y1="640.1" x2="329.8" y2="640.1" stroke="#2b2b2b" stroke-width="2.4" stroke-linecap="butt"/>
<line x1="375.8" y1="595.8" x2="375.8" y2="625.4" stroke="#666" stroke-width="1.2" stroke-linecap="butt"/>
<rect x="348.2" y="625.4" width="55.4" height="21.8" fill="#fe9567" stroke="#2a2a2a" stroke-width="1.2"/>
<line x1="348.2" y1="631.1" x2="403.6" y2="631.1" stroke="#2b2b2b" stroke-width="2.4" stroke-linecap="butt"/>
<polyline points="301.9,583.7 301.9,580.0 375.8,580.0 375.8,583.7" fill="none" stroke="#000" stroke-width="1.35" stroke-linejoin="miter"/>
<text transform="translate(330.8,576.4) scale(0.944,1)" font-size="10.5" fill="#111" stroke="#111" stroke-width="0.1" textLength="19.5" lengthAdjust="spacing">0.65</text>
<ellipse cx="309.0" cy="610.9" rx="1.35" ry="1.8" fill="#000"/>
<ellipse cx="306.3" cy="632.1" rx="1.35" ry="1.8" fill="#000"/>
<ellipse cx="300.6" cy="638.1" rx="1.35" ry="1.8" fill="#000"/>
<ellipse cx="296.2" cy="644.2" rx="1.35" ry="1.8" fill="#000"/>
<ellipse cx="295.2" cy="653.2" rx="1.35" ry="1.8" fill="#000"/>
<ellipse cx="306.6" cy="723.1" rx="1.35" ry="1.8" fill="#000"/>
<ellipse cx="377.1" cy="595.8" rx="1.35" ry="1.8" fill="#000"/>
<ellipse cx="378.1" cy="626.0" rx="1.35" ry="1.8" fill="#000"/>
<ellipse cx="374.8" cy="632.4" rx="1.35" ry="1.8" fill="#000"/>
<ellipse cx="376.1" cy="647.2" rx="1.35" ry="1.8" fill="#000"/>
<ellipse cx="369.1" cy="723.1" rx="1.35" ry="1.8" fill="#000"/>
<text transform="translate(237.2,664.3) rotate(-90) scale(0.909,1)" font-size="10.5" fill="#222" stroke="#222" stroke-width="0.22" textLength="17.3" lengthAdjust="spacing">Age</text>
<text transform="translate(261.3,770.3) scale(0.960,1)" font-size="11" fill="#4d4d4d" stroke="#4d4d4d" stroke-width="0.1" textLength="84.6" lengthAdjust="spacing">BilIN-independent</text>
<text transform="translate(348.2,770.3) scale(0.956,1)" font-size="11" fill="#4d4d4d" stroke="#4d4d4d" stroke-width="0.1" textLength="76.0" lengthAdjust="spacing">BilIN-dependent</text>
<text transform="translate(463.3,532.2) scale(0.940,1)" font-size="17.5" fill="#111" stroke="#111" stroke-width="0" font-weight="bold" textLength="9.3" lengthAdjust="spacing">e</text>
<rect x="499.7" y="554.2" width="159.7" height="201.2" fill="none" stroke="#3c3c3c" stroke-width="0.8"/>
<line x1="497.3" y1="563.6" x2="499.7" y2="563.6" stroke="#333" stroke-width="0.9" stroke-linecap="butt"/>
<text transform="translate(478.9,568.0) scale(0.887,1)" font-size="10.5" fill="#4d4d4d" stroke="#4d4d4d" stroke-width="0.1" textLength="15.9" lengthAdjust="spacing">400</text>
<line x1="497.3" y1="609.2" x2="499.7" y2="609.2" stroke="#333" stroke-width="0.9" stroke-linecap="butt"/>
<text transform="translate(478.9,613.6) scale(0.887,1)" font-size="10.5" fill="#4d4d4d" stroke="#4d4d4d" stroke-width="0.1" textLength="15.9" lengthAdjust="spacing">300</text>
<line x1="497.3" y1="655.3" x2="499.7" y2="655.3" stroke="#333" stroke-width="0.9" stroke-linecap="butt"/>
<text transform="translate(478.9,659.7) scale(0.887,1)" font-size="10.5" fill="#4d4d4d" stroke="#4d4d4d" stroke-width="0.1" textLength="15.9" lengthAdjust="spacing">200</text>
<line x1="497.3" y1="700.9" x2="499.7" y2="700.9" stroke="#333" stroke-width="0.9" stroke-linecap="butt"/>
<text transform="translate(478.9,705.3) scale(0.887,1)" font-size="10.5" fill="#4d4d4d" stroke="#4d4d4d" stroke-width="0.1" textLength="15.9" lengthAdjust="spacing">100</text>
<line x1="497.3" y1="746.9" x2="499.7" y2="746.9" stroke="#333" stroke-width="0.9" stroke-linecap="butt"/>
<text transform="translate(488.3,751.3) scale(0.887,1)" font-size="10.5" fill="#4d4d4d" stroke="#4d4d4d" stroke-width="0.1" textLength="5.3" lengthAdjust="spacing">0</text>
<line x1="543.3" y1="755.4" x2="543.3" y2="758.2" stroke="#333" stroke-width="0.9" stroke-linecap="butt"/>
<line x1="615.5" y1="755.4" x2="615.5" y2="758.2" stroke="#333" stroke-width="0.9" stroke-linecap="butt"/>
<line x1="543.3" y1="598.2" x2="543.3" y2="645.2" stroke="#727272" stroke-width="1.5" stroke-linecap="butt"/>
<line x1="543.3" y1="717.4" x2="543.3" y2="741.6" stroke="#727272" stroke-width="1.5" stroke-linecap="butt"/>
<rect x="515.4" y="645.2" width="55.1" height="72.2" fill="#86d6b8" stroke="#2a2a2a" stroke-width="1.2"/>
<line x1="515.4" y1="684.1" x2="570.5" y2="684.1" stroke="#2b2b2b" stroke-width="2.4" stroke-linecap="butt"/>
<rect x="588.3" y="723.8" width="54.7" height="7.7" fill="#fe9567" stroke="#2a2a2a" stroke-width="1.2"/>
<line x1="588.3" y1="727.8" x2="643.0" y2="727.8" stroke="#2b2b2b" stroke-width="2.4" stroke-linecap="butt"/>
<polyline points="543.3,581.0 543.3,577.0 615.5,577.0 615.5,581.0" fill="none" stroke="#000" stroke-width="1.35" stroke-linejoin="miter"/>
<text transform="translate(571.5,573.4) scale(0.947,1)" font-size="10.5" fill="#111" stroke="#111" stroke-width="0.1" textLength="19.5" lengthAdjust="spacing">0.05</text>
<ellipse cx="549.0" cy="598.2" rx="1.35" ry="1.8" fill="#000"/>
<ellipse cx="540.0" cy="639.5" rx="1.35" ry="1.8" fill="#000"/>
<ellipse cx="544.0" cy="664.3" rx="1.35" ry="1.8" fill="#000"/>
<ellipse cx="546.3" cy="705.0" rx="1.35" ry="1.8" fill="#000"/>
<ellipse cx="539.0" cy="722.1" rx="1.35" ry="1.8" fill="#000"/>
<ellipse cx="536.3" cy="742.2" rx="1.35" ry="1.8" fill="#000"/>
<ellipse cx="618.5" cy="723.4" rx="1.35" ry="1.8" fill="#000"/>
<ellipse cx="619.5" cy="725.8" rx="1.35" ry="1.8" fill="#000"/>
<ellipse cx="619.5" cy="728.1" rx="1.35" ry="1.8" fill="#000"/>
<ellipse cx="612.2" cy="731.8" rx="1.35" ry="1.8" fill="#000"/>
<ellipse cx="618.9" cy="745.2" rx="1.35" ry="1.8" fill="#000"/>
<text transform="translate(471.9,753.5) rotate(-90) scale(0.936,1)" font-size="10.8" fill="#222" stroke="#222" stroke-width="0.22" textLength="208.7" lengthAdjust="spacing">Shared  mutation number (Common ancestor)</text>
<text transform="translate(501.3,771.9) scale(0.963,1)" font-size="11" fill="#4d4d4d" stroke="#4d4d4d" stroke-width="0.1" textLength="78.8" lengthAdjust="spacing">BilIN-indepedent</text>
<text transform="translate(585.3,771.9) scale(0.963,1)" font-size="11" fill="#4d4d4d" stroke="#4d4d4d" stroke-width="0.1" textLength="76.5" lengthAdjust="spacing">BilIN-dependent</text>
</svg></body></html>
